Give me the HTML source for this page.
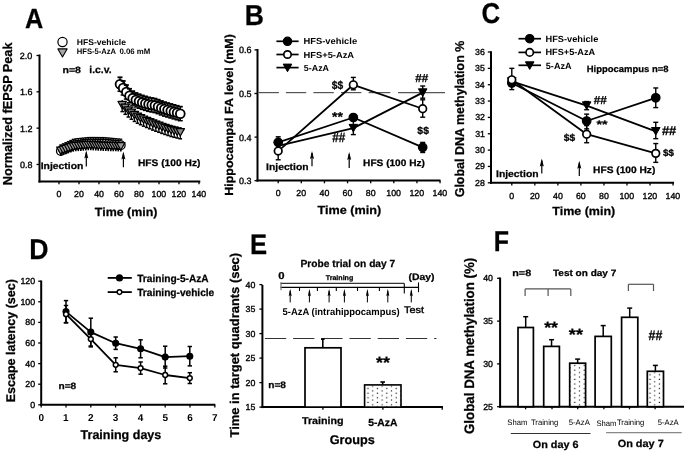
<!DOCTYPE html>
<html><head><meta charset="utf-8"><style>
html,body{margin:0;padding:0;background:#fff;}
svg{display:block;will-change:transform;}
text{font-family:"Liberation Sans",sans-serif;font-weight:bold;stroke:#000;stroke-width:0.25px;text-rendering:geometricPrecision;}
text.r{font-weight:normal;stroke:none;}
text.b0{stroke:none;}
text.m{font-weight:normal;stroke:#000;stroke-width:0.35px;}
</style></head><body>
<svg width="685" height="453" viewBox="0 0 685 453">
<defs><pattern id="dots" patternUnits="userSpaceOnUse" width="9.4" height="4.6"><rect width="9.4" height="4.6" fill="#fff"/><rect x="0.8" y="1.6" width="1.2" height="1.2" fill="#111"/><rect x="5.5" y="3.9" width="1.2" height="1.2" fill="#333"/><rect x="5.5" y="-0.7" width="1.2" height="1.2" fill="#333"/></pattern></defs>
<rect width="685" height="453" fill="#fff"/>
<text x="25.09" y="27.80" font-size="27.76" textLength="18.27" lengthAdjust="spacingAndGlyphs">A</text>
<line x1="39.50" y1="54.50" x2="39.50" y2="182.50" stroke="#000" stroke-width="2.0"/>
<line x1="38.50" y1="181.60" x2="200.30" y2="181.60" stroke="#000" stroke-width="2.0"/>
<line x1="36.50" y1="55.50" x2="39.50" y2="55.50" stroke="#000" stroke-width="1.3"/>
<text x="19.83" y="58.90" font-size="9.00" class="m">2.0</text>
<line x1="36.50" y1="91.82" x2="39.50" y2="91.82" stroke="#000" stroke-width="1.3"/>
<text x="19.88" y="95.22" font-size="9.00" class="m">1.6</text>
<line x1="36.50" y1="128.14" x2="39.50" y2="128.14" stroke="#000" stroke-width="1.3"/>
<text x="19.94" y="131.58" font-size="9.00" class="m">1.2</text>
<line x1="36.50" y1="164.46" x2="39.50" y2="164.46" stroke="#000" stroke-width="1.3"/>
<text x="19.88" y="167.86" font-size="9.00" class="m">0.8</text>
<line x1="59.00" y1="181.60" x2="59.00" y2="184.30" stroke="#000" stroke-width="1.3"/>
<text x="56.55" y="196.63" font-size="8.80" class="m">0</text>
<line x1="79.00" y1="181.60" x2="79.00" y2="184.30" stroke="#000" stroke-width="1.3"/>
<text x="74.05" y="196.63" font-size="8.80" class="m">20</text>
<line x1="99.00" y1="181.60" x2="99.00" y2="184.30" stroke="#000" stroke-width="1.3"/>
<text x="94.18" y="196.63" font-size="8.80" class="m">40</text>
<line x1="119.00" y1="181.60" x2="119.00" y2="184.30" stroke="#000" stroke-width="1.3"/>
<text x="114.05" y="196.63" font-size="8.80" class="m">60</text>
<line x1="139.00" y1="181.60" x2="139.00" y2="184.30" stroke="#000" stroke-width="1.3"/>
<text x="134.09" y="196.63" font-size="8.80" class="m">80</text>
<line x1="159.00" y1="181.60" x2="159.00" y2="184.30" stroke="#000" stroke-width="1.3"/>
<text x="151.49" y="196.63" font-size="8.80" class="m">100</text>
<line x1="179.00" y1="181.60" x2="179.00" y2="184.30" stroke="#000" stroke-width="1.3"/>
<text x="171.49" y="196.63" font-size="8.80" class="m">120</text>
<line x1="199.00" y1="181.60" x2="199.00" y2="184.30" stroke="#000" stroke-width="1.3"/>
<text x="191.49" y="196.63" font-size="8.80" class="m">140</text>
<text x="94.86" y="215.70" font-size="11.86" textLength="62.64" lengthAdjust="spacingAndGlyphs">Time (min)</text>
<g transform="translate(11.83,184.34) rotate(-90)"><text x="-0.84" y="0" font-size="13.02" textLength="142.61" lengthAdjust="spacingAndGlyphs">Normalized fEPSP Peak</text></g>
<circle cx="62.50" cy="42.05" r="4.60" fill="#fff" stroke="#000" stroke-width="1.2"/>
<polygon points="57.9,48.9 67.1,48.9 62.5,57.0" fill="#a8a8a8" stroke="#000" stroke-width="1.1" stroke-linejoin="round"/>
<text x="76.73" y="44.90" font-size="8.37" textLength="49.26" lengthAdjust="spacingAndGlyphs" class="b0">HFS-vehicle</text>
<text x="76.80" y="54.30" font-size="7.94" textLength="39.30" lengthAdjust="spacingAndGlyphs" class="b0">HFS-5-AzA</text>
<text x="119.39" y="54.30" font-size="7.94" textLength="30.93" lengthAdjust="spacingAndGlyphs" class="b0">0.06 mM</text>
<text x="62.51" y="72.70" font-size="9.24" textLength="18.50" lengthAdjust="spacingAndGlyphs">n=8</text>
<text x="89.28" y="72.70" font-size="9.97" textLength="22.33" lengthAdjust="spacingAndGlyphs">i.c.v.</text>
<text x="40.72" y="169.40" font-size="9.39" textLength="42.62" lengthAdjust="spacingAndGlyphs">Injection</text>
<line x1="86.30" y1="152.50" x2="86.30" y2="166.40" stroke="#000" stroke-width="1.2"/>
<polygon points="86.30,150.50 84.30,158.50 86.30,157.30 88.30,158.50" fill="#000"/>
<line x1="123.40" y1="153.50" x2="123.40" y2="167.30" stroke="#000" stroke-width="1.2"/>
<polygon points="123.40,151.50 121.40,159.50 123.40,158.30 125.40,159.50" fill="#000"/>
<text x="137.93" y="165.90" font-size="9.53" textLength="62.48" lengthAdjust="spacingAndGlyphs">HFS (100 Hz)</text>
<line x1="60.80" y1="144.94" x2="60.80" y2="155.94" stroke="#000" stroke-width="1.2"/>
<line x1="59.30" y1="144.94" x2="62.30" y2="144.94" stroke="#000" stroke-width="1.3"/>
<circle cx="60.80" cy="150.94" r="4.30" fill="#fff" stroke="#000" stroke-width="1.3"/>
<line x1="63.30" y1="143.82" x2="63.30" y2="154.82" stroke="#000" stroke-width="1.2"/>
<line x1="61.80" y1="143.82" x2="64.80" y2="143.82" stroke="#000" stroke-width="1.3"/>
<circle cx="63.30" cy="149.82" r="4.30" fill="#fff" stroke="#000" stroke-width="1.3"/>
<line x1="65.80" y1="142.70" x2="65.80" y2="153.70" stroke="#000" stroke-width="1.2"/>
<line x1="64.30" y1="142.70" x2="67.30" y2="142.70" stroke="#000" stroke-width="1.3"/>
<circle cx="65.80" cy="148.70" r="4.30" fill="#fff" stroke="#000" stroke-width="1.3"/>
<line x1="68.30" y1="141.58" x2="68.30" y2="152.58" stroke="#000" stroke-width="1.2"/>
<line x1="66.80" y1="141.58" x2="69.80" y2="141.58" stroke="#000" stroke-width="1.3"/>
<circle cx="68.30" cy="147.58" r="4.30" fill="#fff" stroke="#000" stroke-width="1.3"/>
<line x1="70.80" y1="140.46" x2="70.80" y2="151.46" stroke="#000" stroke-width="1.2"/>
<line x1="69.30" y1="140.46" x2="72.30" y2="140.46" stroke="#000" stroke-width="1.3"/>
<circle cx="70.80" cy="146.46" r="4.30" fill="#fff" stroke="#000" stroke-width="1.3"/>
<line x1="73.30" y1="139.34" x2="73.30" y2="150.34" stroke="#000" stroke-width="1.2"/>
<line x1="71.80" y1="139.34" x2="74.80" y2="139.34" stroke="#000" stroke-width="1.3"/>
<circle cx="73.30" cy="145.34" r="4.30" fill="#fff" stroke="#000" stroke-width="1.3"/>
<line x1="75.80" y1="138.84" x2="75.80" y2="149.84" stroke="#000" stroke-width="1.2"/>
<line x1="74.30" y1="138.84" x2="77.30" y2="138.84" stroke="#000" stroke-width="1.3"/>
<circle cx="75.80" cy="144.84" r="4.30" fill="#fff" stroke="#000" stroke-width="1.3"/>
<line x1="78.30" y1="138.59" x2="78.30" y2="149.59" stroke="#000" stroke-width="1.2"/>
<line x1="76.80" y1="138.59" x2="79.80" y2="138.59" stroke="#000" stroke-width="1.3"/>
<circle cx="78.30" cy="144.59" r="4.30" fill="#fff" stroke="#000" stroke-width="1.3"/>
<line x1="80.80" y1="138.33" x2="80.80" y2="149.33" stroke="#000" stroke-width="1.2"/>
<line x1="79.30" y1="138.33" x2="82.30" y2="138.33" stroke="#000" stroke-width="1.3"/>
<circle cx="80.80" cy="144.33" r="4.30" fill="#fff" stroke="#000" stroke-width="1.3"/>
<line x1="83.30" y1="138.07" x2="83.30" y2="149.07" stroke="#000" stroke-width="1.2"/>
<line x1="81.80" y1="138.07" x2="84.80" y2="138.07" stroke="#000" stroke-width="1.3"/>
<circle cx="83.30" cy="144.07" r="4.30" fill="#fff" stroke="#000" stroke-width="1.3"/>
<line x1="85.80" y1="137.81" x2="85.80" y2="148.81" stroke="#000" stroke-width="1.2"/>
<line x1="84.30" y1="137.81" x2="87.30" y2="137.81" stroke="#000" stroke-width="1.3"/>
<circle cx="85.80" cy="143.81" r="4.30" fill="#fff" stroke="#000" stroke-width="1.3"/>
<line x1="88.30" y1="137.56" x2="88.30" y2="148.56" stroke="#000" stroke-width="1.2"/>
<line x1="86.80" y1="137.56" x2="89.80" y2="137.56" stroke="#000" stroke-width="1.3"/>
<circle cx="88.30" cy="143.56" r="4.30" fill="#fff" stroke="#000" stroke-width="1.3"/>
<line x1="90.80" y1="137.50" x2="90.80" y2="148.50" stroke="#000" stroke-width="1.2"/>
<line x1="89.30" y1="137.50" x2="92.30" y2="137.50" stroke="#000" stroke-width="1.3"/>
<circle cx="90.80" cy="143.50" r="4.30" fill="#fff" stroke="#000" stroke-width="1.3"/>
<line x1="93.30" y1="137.51" x2="93.30" y2="148.51" stroke="#000" stroke-width="1.2"/>
<line x1="91.80" y1="137.51" x2="94.80" y2="137.51" stroke="#000" stroke-width="1.3"/>
<circle cx="93.30" cy="143.51" r="4.30" fill="#fff" stroke="#000" stroke-width="1.3"/>
<line x1="95.80" y1="137.53" x2="95.80" y2="148.53" stroke="#000" stroke-width="1.2"/>
<line x1="94.30" y1="137.53" x2="97.30" y2="137.53" stroke="#000" stroke-width="1.3"/>
<circle cx="95.80" cy="143.53" r="4.30" fill="#fff" stroke="#000" stroke-width="1.3"/>
<line x1="98.30" y1="137.54" x2="98.30" y2="148.54" stroke="#000" stroke-width="1.2"/>
<line x1="96.80" y1="137.54" x2="99.80" y2="137.54" stroke="#000" stroke-width="1.3"/>
<circle cx="98.30" cy="143.54" r="4.30" fill="#fff" stroke="#000" stroke-width="1.3"/>
<line x1="100.80" y1="137.56" x2="100.80" y2="148.56" stroke="#000" stroke-width="1.2"/>
<line x1="99.30" y1="137.56" x2="102.30" y2="137.56" stroke="#000" stroke-width="1.3"/>
<circle cx="100.80" cy="143.56" r="4.30" fill="#fff" stroke="#000" stroke-width="1.3"/>
<line x1="103.30" y1="137.57" x2="103.30" y2="148.57" stroke="#000" stroke-width="1.2"/>
<line x1="101.80" y1="137.57" x2="104.80" y2="137.57" stroke="#000" stroke-width="1.3"/>
<circle cx="103.30" cy="143.57" r="4.30" fill="#fff" stroke="#000" stroke-width="1.3"/>
<line x1="105.80" y1="137.75" x2="105.80" y2="148.75" stroke="#000" stroke-width="1.2"/>
<line x1="104.30" y1="137.75" x2="107.30" y2="137.75" stroke="#000" stroke-width="1.3"/>
<circle cx="105.80" cy="143.75" r="4.30" fill="#fff" stroke="#000" stroke-width="1.3"/>
<line x1="108.30" y1="137.99" x2="108.30" y2="148.99" stroke="#000" stroke-width="1.2"/>
<line x1="106.80" y1="137.99" x2="109.80" y2="137.99" stroke="#000" stroke-width="1.3"/>
<circle cx="108.30" cy="143.99" r="4.30" fill="#fff" stroke="#000" stroke-width="1.3"/>
<line x1="110.80" y1="138.23" x2="110.80" y2="149.23" stroke="#000" stroke-width="1.2"/>
<line x1="109.30" y1="138.23" x2="112.30" y2="138.23" stroke="#000" stroke-width="1.3"/>
<circle cx="110.80" cy="144.23" r="4.30" fill="#fff" stroke="#000" stroke-width="1.3"/>
<line x1="113.30" y1="138.47" x2="113.30" y2="149.47" stroke="#000" stroke-width="1.2"/>
<line x1="111.80" y1="138.47" x2="114.80" y2="138.47" stroke="#000" stroke-width="1.3"/>
<circle cx="113.30" cy="144.47" r="4.30" fill="#fff" stroke="#000" stroke-width="1.3"/>
<line x1="115.80" y1="138.71" x2="115.80" y2="149.71" stroke="#000" stroke-width="1.2"/>
<line x1="114.30" y1="138.71" x2="117.30" y2="138.71" stroke="#000" stroke-width="1.3"/>
<circle cx="115.80" cy="144.71" r="4.30" fill="#fff" stroke="#000" stroke-width="1.3"/>
<line x1="118.30" y1="138.95" x2="118.30" y2="149.95" stroke="#000" stroke-width="1.2"/>
<line x1="116.80" y1="138.95" x2="119.80" y2="138.95" stroke="#000" stroke-width="1.3"/>
<circle cx="118.30" cy="144.95" r="4.30" fill="#fff" stroke="#000" stroke-width="1.3"/>
<line x1="120.80" y1="139.19" x2="120.80" y2="150.19" stroke="#000" stroke-width="1.2"/>
<line x1="119.30" y1="139.19" x2="122.30" y2="139.19" stroke="#000" stroke-width="1.3"/>
<circle cx="120.80" cy="145.19" r="4.30" fill="#fff" stroke="#000" stroke-width="1.3"/>
<line x1="60.80" y1="150.69" x2="60.80" y2="155.89" stroke="#000" stroke-width="1.6"/>
<polygon points="56.60,147.04 65.00,147.04 60.80,154.35" fill="#999" stroke="#000" stroke-width="1.2" stroke-linejoin="round"/>
<line x1="63.30" y1="149.86" x2="63.30" y2="155.06" stroke="#000" stroke-width="1.6"/>
<polygon points="59.10,146.21 67.50,146.21 63.30,153.52" fill="#999" stroke="#000" stroke-width="1.2" stroke-linejoin="round"/>
<line x1="65.80" y1="149.03" x2="65.80" y2="154.23" stroke="#000" stroke-width="1.6"/>
<polygon points="61.60,145.38 70.00,145.38 65.80,152.68" fill="#999" stroke="#000" stroke-width="1.2" stroke-linejoin="round"/>
<line x1="68.30" y1="148.20" x2="68.30" y2="153.40" stroke="#000" stroke-width="1.6"/>
<polygon points="64.10,144.54 72.50,144.54 68.30,151.85" fill="#999" stroke="#000" stroke-width="1.2" stroke-linejoin="round"/>
<line x1="70.80" y1="147.37" x2="70.80" y2="152.57" stroke="#000" stroke-width="1.6"/>
<polygon points="66.60,143.71 75.00,143.71 70.80,151.02" fill="#999" stroke="#000" stroke-width="1.2" stroke-linejoin="round"/>
<line x1="73.30" y1="146.53" x2="73.30" y2="151.73" stroke="#000" stroke-width="1.6"/>
<polygon points="69.10,142.88 77.50,142.88 73.30,150.19" fill="#999" stroke="#000" stroke-width="1.2" stroke-linejoin="round"/>
<line x1="75.80" y1="146.15" x2="75.80" y2="151.35" stroke="#000" stroke-width="1.6"/>
<polygon points="71.60,142.49 80.00,142.49 75.80,149.80" fill="#999" stroke="#000" stroke-width="1.2" stroke-linejoin="round"/>
<line x1="78.30" y1="145.94" x2="78.30" y2="151.14" stroke="#000" stroke-width="1.6"/>
<polygon points="74.10,142.28 82.50,142.28 78.30,149.59" fill="#999" stroke="#000" stroke-width="1.2" stroke-linejoin="round"/>
<line x1="80.80" y1="145.72" x2="80.80" y2="150.92" stroke="#000" stroke-width="1.6"/>
<polygon points="76.60,142.07 85.00,142.07 80.80,149.38" fill="#999" stroke="#000" stroke-width="1.2" stroke-linejoin="round"/>
<line x1="83.30" y1="145.51" x2="83.30" y2="150.71" stroke="#000" stroke-width="1.6"/>
<polygon points="79.10,141.86 87.50,141.86 83.30,149.17" fill="#999" stroke="#000" stroke-width="1.2" stroke-linejoin="round"/>
<line x1="85.80" y1="145.30" x2="85.80" y2="150.50" stroke="#000" stroke-width="1.6"/>
<polygon points="81.60,141.65 90.00,141.65 85.80,148.95" fill="#999" stroke="#000" stroke-width="1.2" stroke-linejoin="round"/>
<line x1="88.30" y1="145.09" x2="88.30" y2="150.29" stroke="#000" stroke-width="1.6"/>
<polygon points="84.10,141.43 92.50,141.43 88.30,148.74" fill="#999" stroke="#000" stroke-width="1.2" stroke-linejoin="round"/>
<line x1="90.80" y1="145.13" x2="90.80" y2="150.33" stroke="#000" stroke-width="1.6"/>
<polygon points="86.60,141.47 95.00,141.47 90.80,148.78" fill="#999" stroke="#000" stroke-width="1.2" stroke-linejoin="round"/>
<line x1="93.30" y1="145.26" x2="93.30" y2="150.46" stroke="#000" stroke-width="1.6"/>
<polygon points="89.10,141.61 97.50,141.61 93.30,148.92" fill="#999" stroke="#000" stroke-width="1.2" stroke-linejoin="round"/>
<line x1="95.80" y1="145.40" x2="95.80" y2="150.60" stroke="#000" stroke-width="1.6"/>
<polygon points="91.60,141.75 100.00,141.75 95.80,149.05" fill="#999" stroke="#000" stroke-width="1.2" stroke-linejoin="round"/>
<line x1="98.30" y1="145.54" x2="98.30" y2="150.74" stroke="#000" stroke-width="1.6"/>
<polygon points="94.10,141.88 102.50,141.88 98.30,149.19" fill="#999" stroke="#000" stroke-width="1.2" stroke-linejoin="round"/>
<line x1="100.80" y1="145.67" x2="100.80" y2="150.87" stroke="#000" stroke-width="1.6"/>
<polygon points="96.60,142.02 105.00,142.02 100.80,149.33" fill="#999" stroke="#000" stroke-width="1.2" stroke-linejoin="round"/>
<line x1="103.30" y1="145.81" x2="103.30" y2="151.01" stroke="#000" stroke-width="1.6"/>
<polygon points="99.10,142.15 107.50,142.15 103.30,149.46" fill="#999" stroke="#000" stroke-width="1.2" stroke-linejoin="round"/>
<line x1="105.80" y1="145.89" x2="105.80" y2="151.09" stroke="#000" stroke-width="1.6"/>
<polygon points="101.60,142.24 110.00,142.24 105.80,149.55" fill="#999" stroke="#000" stroke-width="1.2" stroke-linejoin="round"/>
<line x1="108.30" y1="145.96" x2="108.30" y2="151.16" stroke="#000" stroke-width="1.6"/>
<polygon points="104.10,142.31 112.50,142.31 108.30,149.61" fill="#999" stroke="#000" stroke-width="1.2" stroke-linejoin="round"/>
<line x1="110.80" y1="146.03" x2="110.80" y2="151.23" stroke="#000" stroke-width="1.6"/>
<polygon points="106.60,142.37 115.00,142.37 110.80,149.68" fill="#999" stroke="#000" stroke-width="1.2" stroke-linejoin="round"/>
<line x1="113.30" y1="146.09" x2="113.30" y2="151.29" stroke="#000" stroke-width="1.6"/>
<polygon points="109.10,142.44 117.50,142.44 113.30,149.75" fill="#999" stroke="#000" stroke-width="1.2" stroke-linejoin="round"/>
<line x1="115.80" y1="146.16" x2="115.80" y2="151.36" stroke="#000" stroke-width="1.6"/>
<polygon points="111.60,142.51 120.00,142.51 115.80,149.82" fill="#999" stroke="#000" stroke-width="1.2" stroke-linejoin="round"/>
<line x1="118.30" y1="146.23" x2="118.30" y2="151.43" stroke="#000" stroke-width="1.6"/>
<polygon points="114.10,142.57 122.50,142.57 118.30,149.88" fill="#999" stroke="#000" stroke-width="1.2" stroke-linejoin="round"/>
<line x1="120.80" y1="146.29" x2="120.80" y2="151.49" stroke="#000" stroke-width="1.6"/>
<polygon points="116.60,142.64 125.00,142.64 120.80,149.95" fill="#999" stroke="#000" stroke-width="1.2" stroke-linejoin="round"/>
<line x1="122.20" y1="100.10" x2="122.20" y2="111.60" stroke="#000" stroke-width="1.3"/>
<line x1="120.40" y1="111.60" x2="124.00" y2="111.60" stroke="#000" stroke-width="1.5"/>
<polygon points="118.00,101.45 126.40,101.45 122.20,108.75" fill="#8a8a8a" stroke="#000" stroke-width="1.2" stroke-linejoin="round"/>
<line x1="125.26" y1="102.82" x2="125.26" y2="114.32" stroke="#000" stroke-width="1.3"/>
<line x1="123.46" y1="114.32" x2="127.06" y2="114.32" stroke="#000" stroke-width="1.5"/>
<polygon points="121.06,104.17 129.46,104.17 125.26,111.48" fill="#8a8a8a" stroke="#000" stroke-width="1.2" stroke-linejoin="round"/>
<line x1="128.32" y1="105.55" x2="128.32" y2="117.05" stroke="#000" stroke-width="1.3"/>
<line x1="126.52" y1="117.05" x2="130.12" y2="117.05" stroke="#000" stroke-width="1.5"/>
<polygon points="124.12,106.89 132.52,106.89 128.32,114.20" fill="#8a8a8a" stroke="#000" stroke-width="1.2" stroke-linejoin="round"/>
<line x1="131.37" y1="107.76" x2="131.37" y2="119.26" stroke="#000" stroke-width="1.3"/>
<line x1="129.57" y1="119.26" x2="133.17" y2="119.26" stroke="#000" stroke-width="1.5"/>
<polygon points="127.17,109.11 135.57,109.11 131.37,116.42" fill="#8a8a8a" stroke="#000" stroke-width="1.2" stroke-linejoin="round"/>
<line x1="134.43" y1="109.93" x2="134.43" y2="121.43" stroke="#000" stroke-width="1.3"/>
<line x1="132.63" y1="121.43" x2="136.23" y2="121.43" stroke="#000" stroke-width="1.5"/>
<polygon points="130.23,111.28 138.63,111.28 134.43,118.58" fill="#8a8a8a" stroke="#000" stroke-width="1.2" stroke-linejoin="round"/>
<line x1="137.49" y1="111.72" x2="137.49" y2="123.22" stroke="#000" stroke-width="1.3"/>
<line x1="135.69" y1="123.22" x2="139.29" y2="123.22" stroke="#000" stroke-width="1.5"/>
<polygon points="133.29,113.07 141.69,113.07 137.49,120.38" fill="#8a8a8a" stroke="#000" stroke-width="1.2" stroke-linejoin="round"/>
<line x1="140.55" y1="113.21" x2="140.55" y2="124.71" stroke="#000" stroke-width="1.3"/>
<line x1="138.75" y1="124.71" x2="142.35" y2="124.71" stroke="#000" stroke-width="1.5"/>
<polygon points="136.35,114.55 144.75,114.55 140.55,121.86" fill="#8a8a8a" stroke="#000" stroke-width="1.2" stroke-linejoin="round"/>
<line x1="143.61" y1="114.66" x2="143.61" y2="126.16" stroke="#000" stroke-width="1.3"/>
<line x1="141.81" y1="126.16" x2="145.41" y2="126.16" stroke="#000" stroke-width="1.5"/>
<polygon points="139.41,116.01 147.81,116.01 143.61,123.31" fill="#8a8a8a" stroke="#000" stroke-width="1.2" stroke-linejoin="round"/>
<line x1="146.66" y1="115.98" x2="146.66" y2="127.48" stroke="#000" stroke-width="1.3"/>
<line x1="144.86" y1="127.48" x2="148.46" y2="127.48" stroke="#000" stroke-width="1.5"/>
<polygon points="142.46,117.32 150.86,117.32 146.66,124.63" fill="#8a8a8a" stroke="#000" stroke-width="1.2" stroke-linejoin="round"/>
<line x1="149.72" y1="117.29" x2="149.72" y2="128.79" stroke="#000" stroke-width="1.3"/>
<line x1="147.92" y1="128.79" x2="151.52" y2="128.79" stroke="#000" stroke-width="1.5"/>
<polygon points="145.52,118.64 153.92,118.64 149.72,125.94" fill="#8a8a8a" stroke="#000" stroke-width="1.2" stroke-linejoin="round"/>
<line x1="152.78" y1="118.60" x2="152.78" y2="130.10" stroke="#000" stroke-width="1.3"/>
<line x1="150.98" y1="130.10" x2="154.58" y2="130.10" stroke="#000" stroke-width="1.5"/>
<polygon points="148.58,119.95 156.98,119.95 152.78,127.26" fill="#8a8a8a" stroke="#000" stroke-width="1.2" stroke-linejoin="round"/>
<line x1="155.84" y1="119.72" x2="155.84" y2="131.22" stroke="#000" stroke-width="1.3"/>
<line x1="154.04" y1="131.22" x2="157.64" y2="131.22" stroke="#000" stroke-width="1.5"/>
<polygon points="151.64,121.07 160.04,121.07 155.84,128.38" fill="#8a8a8a" stroke="#000" stroke-width="1.2" stroke-linejoin="round"/>
<line x1="158.89" y1="120.82" x2="158.89" y2="132.32" stroke="#000" stroke-width="1.3"/>
<line x1="157.09" y1="132.32" x2="160.69" y2="132.32" stroke="#000" stroke-width="1.5"/>
<polygon points="154.69,122.17 163.09,122.17 158.89,129.48" fill="#8a8a8a" stroke="#000" stroke-width="1.2" stroke-linejoin="round"/>
<line x1="161.95" y1="121.92" x2="161.95" y2="133.42" stroke="#000" stroke-width="1.3"/>
<line x1="160.15" y1="133.42" x2="163.75" y2="133.42" stroke="#000" stroke-width="1.5"/>
<polygon points="157.75,123.27 166.15,123.27 161.95,130.58" fill="#8a8a8a" stroke="#000" stroke-width="1.2" stroke-linejoin="round"/>
<line x1="165.01" y1="122.98" x2="165.01" y2="134.48" stroke="#000" stroke-width="1.3"/>
<line x1="163.21" y1="134.48" x2="166.81" y2="134.48" stroke="#000" stroke-width="1.5"/>
<polygon points="160.81,124.32 169.21,124.32 165.01,131.63" fill="#8a8a8a" stroke="#000" stroke-width="1.2" stroke-linejoin="round"/>
<line x1="168.07" y1="124.01" x2="168.07" y2="135.51" stroke="#000" stroke-width="1.3"/>
<line x1="166.27" y1="135.51" x2="169.87" y2="135.51" stroke="#000" stroke-width="1.5"/>
<polygon points="163.87,125.36 172.27,125.36 168.07,132.66" fill="#8a8a8a" stroke="#000" stroke-width="1.2" stroke-linejoin="round"/>
<line x1="171.13" y1="125.04" x2="171.13" y2="136.54" stroke="#000" stroke-width="1.3"/>
<line x1="169.33" y1="136.54" x2="172.93" y2="136.54" stroke="#000" stroke-width="1.5"/>
<polygon points="166.93,126.39 175.33,126.39 171.13,133.69" fill="#8a8a8a" stroke="#000" stroke-width="1.2" stroke-linejoin="round"/>
<line x1="174.18" y1="125.82" x2="174.18" y2="137.32" stroke="#000" stroke-width="1.3"/>
<line x1="172.38" y1="137.32" x2="175.98" y2="137.32" stroke="#000" stroke-width="1.5"/>
<polygon points="169.98,127.17 178.38,127.17 174.18,134.48" fill="#8a8a8a" stroke="#000" stroke-width="1.2" stroke-linejoin="round"/>
<line x1="177.24" y1="126.56" x2="177.24" y2="138.06" stroke="#000" stroke-width="1.3"/>
<line x1="175.44" y1="138.06" x2="179.04" y2="138.06" stroke="#000" stroke-width="1.5"/>
<polygon points="173.04,127.91 181.44,127.91 177.24,135.22" fill="#8a8a8a" stroke="#000" stroke-width="1.2" stroke-linejoin="round"/>
<line x1="180.30" y1="127.30" x2="180.30" y2="138.80" stroke="#000" stroke-width="1.3"/>
<line x1="178.50" y1="138.80" x2="182.10" y2="138.80" stroke="#000" stroke-width="1.5"/>
<polygon points="176.10,128.65 184.50,128.65 180.30,135.95" fill="#8a8a8a" stroke="#000" stroke-width="1.2" stroke-linejoin="round"/>
<line x1="120.00" y1="77.30" x2="120.00" y2="91.30" stroke="#000" stroke-width="1.4"/>
<line x1="117.50" y1="77.30" x2="122.50" y2="77.30" stroke="#000" stroke-width="1.8"/>
<line x1="117.50" y1="91.30" x2="122.50" y2="91.30" stroke="#000" stroke-width="1.5"/>
<circle cx="120.00" cy="84.30" r="4.40" fill="#fff" stroke="#000" stroke-width="1.8"/>
<line x1="123.17" y1="80.99" x2="123.17" y2="94.99" stroke="#000" stroke-width="1.4"/>
<line x1="120.67" y1="80.99" x2="125.67" y2="80.99" stroke="#000" stroke-width="1.8"/>
<line x1="120.67" y1="94.99" x2="125.67" y2="94.99" stroke="#000" stroke-width="1.5"/>
<circle cx="123.17" cy="87.99" r="4.40" fill="#fff" stroke="#000" stroke-width="1.8"/>
<line x1="126.35" y1="85.06" x2="126.35" y2="99.06" stroke="#000" stroke-width="1.4"/>
<line x1="123.85" y1="85.06" x2="128.85" y2="85.06" stroke="#000" stroke-width="1.8"/>
<line x1="123.85" y1="99.06" x2="128.85" y2="99.06" stroke="#000" stroke-width="1.5"/>
<circle cx="126.35" cy="92.06" r="4.40" fill="#fff" stroke="#000" stroke-width="1.8"/>
<line x1="129.52" y1="88.78" x2="129.52" y2="102.78" stroke="#000" stroke-width="1.4"/>
<line x1="127.02" y1="88.78" x2="132.02" y2="88.78" stroke="#000" stroke-width="1.8"/>
<line x1="127.02" y1="102.78" x2="132.02" y2="102.78" stroke="#000" stroke-width="1.5"/>
<circle cx="129.52" cy="95.78" r="4.40" fill="#fff" stroke="#000" stroke-width="1.8"/>
<line x1="132.69" y1="91.14" x2="132.69" y2="105.14" stroke="#000" stroke-width="1.4"/>
<line x1="130.19" y1="91.14" x2="135.19" y2="91.14" stroke="#000" stroke-width="1.8"/>
<line x1="130.19" y1="105.14" x2="135.19" y2="105.14" stroke="#000" stroke-width="1.5"/>
<circle cx="132.69" cy="98.14" r="4.40" fill="#fff" stroke="#000" stroke-width="1.8"/>
<line x1="135.87" y1="92.98" x2="135.87" y2="106.98" stroke="#000" stroke-width="1.4"/>
<line x1="133.37" y1="92.98" x2="138.37" y2="92.98" stroke="#000" stroke-width="1.8"/>
<line x1="133.37" y1="106.98" x2="138.37" y2="106.98" stroke="#000" stroke-width="1.5"/>
<circle cx="135.87" cy="99.98" r="4.40" fill="#fff" stroke="#000" stroke-width="1.8"/>
<line x1="139.04" y1="94.23" x2="139.04" y2="108.23" stroke="#000" stroke-width="1.4"/>
<line x1="136.54" y1="94.23" x2="141.54" y2="94.23" stroke="#000" stroke-width="1.8"/>
<line x1="136.54" y1="108.23" x2="141.54" y2="108.23" stroke="#000" stroke-width="1.5"/>
<circle cx="139.04" cy="101.23" r="4.40" fill="#fff" stroke="#000" stroke-width="1.8"/>
<line x1="142.22" y1="95.42" x2="142.22" y2="109.42" stroke="#000" stroke-width="1.4"/>
<line x1="139.72" y1="95.42" x2="144.72" y2="95.42" stroke="#000" stroke-width="1.8"/>
<line x1="139.72" y1="109.42" x2="144.72" y2="109.42" stroke="#000" stroke-width="1.5"/>
<circle cx="142.22" cy="102.42" r="4.40" fill="#fff" stroke="#000" stroke-width="1.8"/>
<line x1="145.39" y1="96.39" x2="145.39" y2="110.39" stroke="#000" stroke-width="1.4"/>
<line x1="142.89" y1="96.39" x2="147.89" y2="96.39" stroke="#000" stroke-width="1.8"/>
<line x1="142.89" y1="110.39" x2="147.89" y2="110.39" stroke="#000" stroke-width="1.5"/>
<circle cx="145.39" cy="103.39" r="4.40" fill="#fff" stroke="#000" stroke-width="1.8"/>
<line x1="148.56" y1="97.36" x2="148.56" y2="111.36" stroke="#000" stroke-width="1.4"/>
<line x1="146.06" y1="97.36" x2="151.06" y2="97.36" stroke="#000" stroke-width="1.8"/>
<line x1="146.06" y1="111.36" x2="151.06" y2="111.36" stroke="#000" stroke-width="1.5"/>
<circle cx="148.56" cy="104.36" r="4.40" fill="#fff" stroke="#000" stroke-width="1.8"/>
<line x1="151.74" y1="97.99" x2="151.74" y2="111.99" stroke="#000" stroke-width="1.4"/>
<line x1="149.24" y1="97.99" x2="154.24" y2="97.99" stroke="#000" stroke-width="1.8"/>
<line x1="149.24" y1="111.99" x2="154.24" y2="111.99" stroke="#000" stroke-width="1.5"/>
<circle cx="151.74" cy="104.99" r="4.40" fill="#fff" stroke="#000" stroke-width="1.8"/>
<line x1="154.91" y1="98.61" x2="154.91" y2="112.61" stroke="#000" stroke-width="1.4"/>
<line x1="152.41" y1="98.61" x2="157.41" y2="98.61" stroke="#000" stroke-width="1.8"/>
<line x1="152.41" y1="112.61" x2="157.41" y2="112.61" stroke="#000" stroke-width="1.5"/>
<circle cx="154.91" cy="105.61" r="4.40" fill="#fff" stroke="#000" stroke-width="1.8"/>
<line x1="158.08" y1="99.69" x2="158.08" y2="113.69" stroke="#000" stroke-width="1.4"/>
<line x1="155.58" y1="99.69" x2="160.58" y2="99.69" stroke="#000" stroke-width="1.8"/>
<line x1="155.58" y1="113.69" x2="160.58" y2="113.69" stroke="#000" stroke-width="1.5"/>
<circle cx="158.08" cy="106.69" r="4.40" fill="#fff" stroke="#000" stroke-width="1.8"/>
<line x1="161.26" y1="100.99" x2="161.26" y2="114.99" stroke="#000" stroke-width="1.4"/>
<line x1="158.76" y1="100.99" x2="163.76" y2="100.99" stroke="#000" stroke-width="1.8"/>
<line x1="158.76" y1="114.99" x2="163.76" y2="114.99" stroke="#000" stroke-width="1.5"/>
<circle cx="161.26" cy="107.99" r="4.40" fill="#fff" stroke="#000" stroke-width="1.8"/>
<line x1="164.43" y1="102.12" x2="164.43" y2="116.12" stroke="#000" stroke-width="1.4"/>
<line x1="161.93" y1="102.12" x2="166.93" y2="102.12" stroke="#000" stroke-width="1.8"/>
<line x1="161.93" y1="116.12" x2="166.93" y2="116.12" stroke="#000" stroke-width="1.5"/>
<circle cx="164.43" cy="109.12" r="4.40" fill="#fff" stroke="#000" stroke-width="1.8"/>
<line x1="167.61" y1="103.04" x2="167.61" y2="117.04" stroke="#000" stroke-width="1.4"/>
<line x1="165.11" y1="103.04" x2="170.11" y2="103.04" stroke="#000" stroke-width="1.8"/>
<line x1="165.11" y1="117.04" x2="170.11" y2="117.04" stroke="#000" stroke-width="1.5"/>
<circle cx="167.61" cy="110.04" r="4.40" fill="#fff" stroke="#000" stroke-width="1.8"/>
<line x1="170.78" y1="103.97" x2="170.78" y2="117.97" stroke="#000" stroke-width="1.4"/>
<line x1="168.28" y1="103.97" x2="173.28" y2="103.97" stroke="#000" stroke-width="1.8"/>
<line x1="168.28" y1="117.97" x2="173.28" y2="117.97" stroke="#000" stroke-width="1.5"/>
<circle cx="170.78" cy="110.97" r="4.40" fill="#fff" stroke="#000" stroke-width="1.8"/>
<line x1="173.95" y1="104.88" x2="173.95" y2="118.88" stroke="#000" stroke-width="1.4"/>
<line x1="171.45" y1="104.88" x2="176.45" y2="104.88" stroke="#000" stroke-width="1.8"/>
<line x1="171.45" y1="118.88" x2="176.45" y2="118.88" stroke="#000" stroke-width="1.5"/>
<circle cx="173.95" cy="111.88" r="4.40" fill="#fff" stroke="#000" stroke-width="1.8"/>
<line x1="177.13" y1="105.79" x2="177.13" y2="119.79" stroke="#000" stroke-width="1.4"/>
<line x1="174.63" y1="105.79" x2="179.63" y2="105.79" stroke="#000" stroke-width="1.8"/>
<line x1="174.63" y1="119.79" x2="179.63" y2="119.79" stroke="#000" stroke-width="1.5"/>
<circle cx="177.13" cy="112.79" r="4.40" fill="#fff" stroke="#000" stroke-width="1.8"/>
<line x1="180.30" y1="106.70" x2="180.30" y2="120.70" stroke="#000" stroke-width="1.4"/>
<line x1="177.80" y1="106.70" x2="182.80" y2="106.70" stroke="#000" stroke-width="1.8"/>
<line x1="177.80" y1="120.70" x2="182.80" y2="120.70" stroke="#000" stroke-width="1.5"/>
<circle cx="180.30" cy="113.70" r="4.40" fill="#fff" stroke="#000" stroke-width="1.8"/>
<text x="244.75" y="24.50" font-size="28.78" textLength="19.15" lengthAdjust="spacingAndGlyphs">B</text>
<line x1="257.50" y1="49.00" x2="257.50" y2="181.50" stroke="#000" stroke-width="2.0"/>
<line x1="256.50" y1="180.60" x2="440.50" y2="180.60" stroke="#000" stroke-width="2.0"/>
<line x1="254.50" y1="49.90" x2="257.50" y2="49.90" stroke="#000" stroke-width="1.3"/>
<text x="239.08" y="53.30" font-size="9.00" class="m">0.6</text>
<line x1="254.50" y1="93.50" x2="257.50" y2="93.50" stroke="#000" stroke-width="1.3"/>
<text x="239.06" y="96.90" font-size="9.00" class="m">0.5</text>
<line x1="254.50" y1="137.10" x2="257.50" y2="137.10" stroke="#000" stroke-width="1.3"/>
<text x="238.95" y="140.50" font-size="9.00" class="m">0.4</text>
<line x1="254.50" y1="180.70" x2="257.50" y2="180.70" stroke="#000" stroke-width="1.3"/>
<text x="239.08" y="184.10" font-size="9.00" class="m">0.3</text>
<line x1="278.20" y1="180.60" x2="278.20" y2="183.30" stroke="#000" stroke-width="1.3"/>
<text x="275.75" y="196.13" font-size="8.80" class="m">0</text>
<line x1="301.32" y1="180.60" x2="301.32" y2="183.30" stroke="#000" stroke-width="1.3"/>
<text x="296.37" y="196.13" font-size="8.80" class="m">20</text>
<line x1="324.44" y1="180.60" x2="324.44" y2="183.30" stroke="#000" stroke-width="1.3"/>
<text x="319.62" y="196.13" font-size="8.80" class="m">40</text>
<line x1="347.56" y1="180.60" x2="347.56" y2="183.30" stroke="#000" stroke-width="1.3"/>
<text x="342.61" y="196.13" font-size="8.80" class="m">60</text>
<line x1="370.68" y1="180.60" x2="370.68" y2="183.30" stroke="#000" stroke-width="1.3"/>
<text x="365.77" y="196.13" font-size="8.80" class="m">80</text>
<line x1="393.80" y1="180.60" x2="393.80" y2="183.30" stroke="#000" stroke-width="1.3"/>
<text x="386.29" y="196.13" font-size="8.80" class="m">100</text>
<line x1="416.92" y1="180.60" x2="416.92" y2="183.30" stroke="#000" stroke-width="1.3"/>
<text x="409.41" y="196.13" font-size="8.80" class="m">120</text>
<line x1="440.04" y1="180.60" x2="440.04" y2="183.30" stroke="#000" stroke-width="1.3"/>
<text x="432.53" y="196.13" font-size="8.80" class="m">140</text>
<text x="317.56" y="214.40" font-size="11.72" textLength="63.65" lengthAdjust="spacingAndGlyphs">Time (min)</text>
<g transform="translate(232.93,194.92) rotate(-90)"><text x="-0.82" y="0" font-size="11.72" textLength="161.64" lengthAdjust="spacingAndGlyphs">Hippocampal FA level (mM)</text></g>
<line x1="258.50" y1="92.60" x2="278.90" y2="92.60" stroke="#555" stroke-width="1.2"/>
<line x1="285.90" y1="92.60" x2="306.20" y2="92.60" stroke="#555" stroke-width="1.2"/>
<line x1="313.40" y1="92.60" x2="333.80" y2="92.60" stroke="#555" stroke-width="1.2"/>
<line x1="341.00" y1="92.60" x2="361.30" y2="92.60" stroke="#555" stroke-width="1.2"/>
<line x1="368.60" y1="92.60" x2="390.30" y2="92.60" stroke="#555" stroke-width="1.2"/>
<line x1="398.00" y1="92.60" x2="445.00" y2="92.60" stroke="#555" stroke-width="1.2"/>
<line x1="276.40" y1="41.30" x2="298.60" y2="41.30" stroke="#000" stroke-width="1.7"/>
<circle cx="287.50" cy="41.30" r="4.10" fill="#000" stroke="#000" stroke-width="1.3"/>
<line x1="276.40" y1="54.50" x2="298.60" y2="54.50" stroke="#000" stroke-width="1.7"/>
<circle cx="287.50" cy="54.50" r="3.70" fill="#fff" stroke="#000" stroke-width="1.7"/>
<line x1="276.40" y1="67.60" x2="298.60" y2="67.60" stroke="#000" stroke-width="1.7"/>
<polygon points="283.20,64.10 291.80,64.10 287.50,71.70" fill="#000" stroke="#000" stroke-width="1" stroke-linejoin="round"/>
<text x="303.48" y="44.20" font-size="8.81" textLength="53.64" lengthAdjust="spacingAndGlyphs" class="b0">HFS-vehicle</text>
<text x="303.48" y="57.60" font-size="8.81" textLength="50.67" lengthAdjust="spacingAndGlyphs" class="b0">HFS+5-AzA</text>
<text x="303.83" y="70.80" font-size="8.81" textLength="25.20" lengthAdjust="spacingAndGlyphs" class="b0">5-AzA</text>
<polyline points="278.20,142.33 353.34,117.48 422.70,147.35" fill="none" stroke="#000" stroke-width="1.8" stroke-linejoin="round"/>
<polyline points="278.20,151.05 353.34,84.78 422.70,108.76" fill="none" stroke="#000" stroke-width="1.8" stroke-linejoin="round"/>
<polyline points="278.20,145.82 353.34,128.16 422.70,92.63" fill="none" stroke="#000" stroke-width="1.8" stroke-linejoin="round"/>
<line x1="278.20" y1="136.80" x2="278.20" y2="159.80" stroke="#000" stroke-width="1.4"/>
<line x1="275.70" y1="136.80" x2="280.70" y2="136.80" stroke="#000" stroke-width="1.4"/>
<line x1="275.70" y1="159.80" x2="280.70" y2="159.80" stroke="#000" stroke-width="1.4"/>
<line x1="353.34" y1="77.40" x2="353.34" y2="89.80" stroke="#000" stroke-width="1.4"/>
<line x1="350.84" y1="77.40" x2="355.84" y2="77.40" stroke="#000" stroke-width="1.4"/>
<line x1="350.84" y1="89.80" x2="355.84" y2="89.80" stroke="#000" stroke-width="1.4"/>
<line x1="353.34" y1="119.00" x2="353.34" y2="134.60" stroke="#000" stroke-width="1.4"/>
<line x1="350.84" y1="134.60" x2="355.84" y2="134.60" stroke="#000" stroke-width="1.4"/>
<line x1="422.70" y1="86.00" x2="422.70" y2="98.20" stroke="#000" stroke-width="1.4"/>
<line x1="420.20" y1="86.00" x2="425.20" y2="86.00" stroke="#000" stroke-width="1.4"/>
<line x1="420.20" y1="98.20" x2="425.20" y2="98.20" stroke="#000" stroke-width="1.4"/>
<line x1="422.70" y1="99.80" x2="422.70" y2="117.20" stroke="#000" stroke-width="1.4"/>
<line x1="420.20" y1="99.80" x2="425.20" y2="99.80" stroke="#000" stroke-width="1.4"/>
<line x1="420.20" y1="117.20" x2="425.20" y2="117.20" stroke="#000" stroke-width="1.4"/>
<line x1="422.70" y1="142.60" x2="422.70" y2="152.30" stroke="#000" stroke-width="1.8"/>
<line x1="420.20" y1="142.60" x2="425.20" y2="142.60" stroke="#000" stroke-width="1.8"/>
<line x1="420.20" y1="152.30" x2="425.20" y2="152.30" stroke="#000" stroke-width="1.8"/>
<circle cx="278.20" cy="142.33" r="4.20" fill="#000" stroke="#000" stroke-width="1.3"/>
<circle cx="353.34" cy="117.48" r="4.20" fill="#000" stroke="#000" stroke-width="1.3"/>
<circle cx="422.70" cy="147.35" r="4.20" fill="#000" stroke="#000" stroke-width="1.3"/>
<polygon points="273.90,142.02 282.50,142.02 278.20,149.62" fill="#000" stroke="#000" stroke-width="1" stroke-linejoin="round"/>
<polygon points="349.04,124.36 357.64,124.36 353.34,131.96" fill="#000" stroke="#000" stroke-width="1" stroke-linejoin="round"/>
<polygon points="418.40,88.83 427.00,88.83 422.70,96.43" fill="#000" stroke="#000" stroke-width="1" stroke-linejoin="round"/>
<circle cx="278.20" cy="151.05" r="3.80" fill="#fff" stroke="#000" stroke-width="1.7"/>
<circle cx="353.34" cy="84.78" r="3.80" fill="#fff" stroke="#000" stroke-width="1.7"/>
<circle cx="422.70" cy="108.76" r="3.80" fill="#fff" stroke="#000" stroke-width="1.7"/>
<text x="331.87" y="88.59" font-size="11.33" textLength="11.38" lengthAdjust="spacingAndGlyphs">$$</text>
<text x="332.07" y="121.07" font-size="12.80" textLength="10.83" lengthAdjust="spacingAndGlyphs">**</text>
<text x="332.30" y="142.23" font-size="13.45" textLength="13.08" lengthAdjust="spacingAndGlyphs">##</text>
<text x="415.30" y="82.33" font-size="11.69" textLength="12.98" lengthAdjust="spacingAndGlyphs">##</text>
<text x="417.36" y="134.07" font-size="10.23" textLength="11.58" lengthAdjust="spacingAndGlyphs">$$</text>
<text x="266.12" y="169.80" font-size="9.53" textLength="42.41" lengthAdjust="spacingAndGlyphs">Injection</text>
<line x1="312.00" y1="153.00" x2="312.00" y2="166.20" stroke="#000" stroke-width="1.2"/>
<polygon points="312.00,151.00 310.00,159.00 312.00,157.80 314.00,159.00" fill="#000"/>
<line x1="349.20" y1="154.00" x2="349.20" y2="168.00" stroke="#000" stroke-width="1.2"/>
<polygon points="349.20,152.00 347.20,160.00 349.20,158.80 351.20,160.00" fill="#000"/>
<text x="363.13" y="166.00" font-size="9.39" textLength="61.77" lengthAdjust="spacingAndGlyphs">HFS (100 Hz)</text>
<text x="481.54" y="23.40" font-size="28.78" textLength="18.66" lengthAdjust="spacingAndGlyphs">C</text>
<line x1="491.00" y1="51.20" x2="491.00" y2="183.80" stroke="#000" stroke-width="2.0"/>
<line x1="490.00" y1="182.80" x2="674.00" y2="182.80" stroke="#000" stroke-width="2.0"/>
<line x1="487.80" y1="182.80" x2="491.00" y2="182.80" stroke="#000" stroke-width="1.3"/>
<text x="475.09" y="185.83" font-size="8.80" class="m">28</text>
<line x1="487.80" y1="166.45" x2="491.00" y2="166.45" stroke="#000" stroke-width="1.3"/>
<text x="475.13" y="169.48" font-size="8.80" class="m">29</text>
<line x1="487.80" y1="150.10" x2="491.00" y2="150.10" stroke="#000" stroke-width="1.3"/>
<text x="475.05" y="153.13" font-size="8.80" class="m">30</text>
<line x1="487.80" y1="133.75" x2="491.00" y2="133.75" stroke="#000" stroke-width="1.3"/>
<text x="475.14" y="136.78" font-size="8.80" class="m">31</text>
<line x1="487.80" y1="117.40" x2="491.00" y2="117.40" stroke="#000" stroke-width="1.3"/>
<text x="475.15" y="120.43" font-size="8.80" class="m">32</text>
<line x1="487.80" y1="101.05" x2="491.00" y2="101.05" stroke="#000" stroke-width="1.3"/>
<text x="475.09" y="104.08" font-size="8.80" class="m">33</text>
<line x1="487.80" y1="84.70" x2="491.00" y2="84.70" stroke="#000" stroke-width="1.3"/>
<text x="474.97" y="87.73" font-size="8.80" class="m">34</text>
<line x1="487.80" y1="68.35" x2="491.00" y2="68.35" stroke="#000" stroke-width="1.3"/>
<text x="475.08" y="71.38" font-size="8.80" class="m">35</text>
<line x1="487.80" y1="52.00" x2="491.00" y2="52.00" stroke="#000" stroke-width="1.3"/>
<text x="475.09" y="55.03" font-size="8.80" class="m">36</text>
<line x1="511.80" y1="182.80" x2="511.80" y2="185.50" stroke="#000" stroke-width="1.3"/>
<text x="509.35" y="198.53" font-size="8.80" class="m">0</text>
<line x1="534.83" y1="182.80" x2="534.83" y2="185.50" stroke="#000" stroke-width="1.3"/>
<text x="529.89" y="198.53" font-size="8.80" class="m">20</text>
<line x1="557.87" y1="182.80" x2="557.87" y2="185.50" stroke="#000" stroke-width="1.3"/>
<text x="553.05" y="198.53" font-size="8.80" class="m">40</text>
<line x1="580.90" y1="182.80" x2="580.90" y2="185.50" stroke="#000" stroke-width="1.3"/>
<text x="575.96" y="198.53" font-size="8.80" class="m">60</text>
<line x1="603.94" y1="182.80" x2="603.94" y2="185.50" stroke="#000" stroke-width="1.3"/>
<text x="599.02" y="198.53" font-size="8.80" class="m">80</text>
<line x1="626.97" y1="182.80" x2="626.97" y2="185.50" stroke="#000" stroke-width="1.3"/>
<text x="619.46" y="198.53" font-size="8.80" class="m">100</text>
<line x1="650.00" y1="182.80" x2="650.00" y2="185.50" stroke="#000" stroke-width="1.3"/>
<text x="642.50" y="198.53" font-size="8.80" class="m">120</text>
<line x1="673.04" y1="182.80" x2="673.04" y2="185.50" stroke="#000" stroke-width="1.3"/>
<text x="665.53" y="198.53" font-size="8.80" class="m">140</text>
<text x="552.26" y="214.80" font-size="11.72" textLength="63.05" lengthAdjust="spacingAndGlyphs">Time (min)</text>
<g transform="translate(463.73,196.81) rotate(-90)"><text x="-0.51" y="0" font-size="12.88" textLength="156.64" lengthAdjust="spacingAndGlyphs">Global DNA methylation %</text></g>
<line x1="518.50" y1="38.70" x2="541.00" y2="38.70" stroke="#000" stroke-width="1.7"/>
<circle cx="529.70" cy="38.70" r="4.10" fill="#000" stroke="#000" stroke-width="1.3"/>
<line x1="518.50" y1="52.40" x2="541.00" y2="52.40" stroke="#000" stroke-width="1.7"/>
<circle cx="529.70" cy="52.40" r="3.70" fill="#fff" stroke="#000" stroke-width="1.7"/>
<line x1="518.50" y1="65.30" x2="541.00" y2="65.30" stroke="#000" stroke-width="1.7"/>
<polygon points="525.40,61.80 534.00,61.80 529.70,69.40" fill="#000" stroke="#000" stroke-width="1" stroke-linejoin="round"/>
<text x="545.49" y="41.90" font-size="8.95" textLength="52.82" lengthAdjust="spacingAndGlyphs" class="b0">HFS-vehicle</text>
<text x="545.50" y="55.20" font-size="8.95" textLength="49.65" lengthAdjust="spacingAndGlyphs" class="b0">HFS+5-AzA</text>
<text x="545.83" y="68.90" font-size="8.95" textLength="25.71" lengthAdjust="spacingAndGlyphs" class="b0">5-AzA</text>
<text x="586.68" y="72.40" font-size="9.10" textLength="81.81" lengthAdjust="spacingAndGlyphs">Hippocampus n=8</text>
<polyline points="511.80,83.06 586.66,121.00 655.76,97.78" fill="none" stroke="#000" stroke-width="1.8" stroke-linejoin="round"/>
<polyline points="511.80,79.80 586.66,134.24 655.76,153.37" fill="none" stroke="#000" stroke-width="1.8" stroke-linejoin="round"/>
<polyline points="511.80,81.43 586.66,105.63 655.76,131.30" fill="none" stroke="#000" stroke-width="1.8" stroke-linejoin="round"/>
<line x1="511.80" y1="68.35" x2="511.80" y2="89.60" stroke="#000" stroke-width="1.4"/>
<line x1="509.30" y1="68.35" x2="514.30" y2="68.35" stroke="#000" stroke-width="1.4"/>
<line x1="509.30" y1="89.60" x2="514.30" y2="89.60" stroke="#000" stroke-width="1.4"/>
<line x1="586.66" y1="101.54" x2="586.66" y2="109.72" stroke="#000" stroke-width="1.4"/>
<line x1="584.16" y1="101.54" x2="589.16" y2="101.54" stroke="#000" stroke-width="1.4"/>
<line x1="584.16" y1="109.72" x2="589.16" y2="109.72" stroke="#000" stroke-width="1.4"/>
<line x1="586.66" y1="114.13" x2="586.66" y2="128.84" stroke="#000" stroke-width="1.4"/>
<line x1="584.16" y1="114.13" x2="589.16" y2="114.13" stroke="#000" stroke-width="1.4"/>
<line x1="584.16" y1="128.84" x2="589.16" y2="128.84" stroke="#000" stroke-width="1.4"/>
<line x1="586.66" y1="125.58" x2="586.66" y2="142.74" stroke="#000" stroke-width="1.4"/>
<line x1="584.16" y1="125.58" x2="589.16" y2="125.58" stroke="#000" stroke-width="1.4"/>
<line x1="584.16" y1="142.74" x2="589.16" y2="142.74" stroke="#000" stroke-width="1.4"/>
<line x1="655.76" y1="87.97" x2="655.76" y2="107.59" stroke="#000" stroke-width="1.4"/>
<line x1="653.26" y1="87.97" x2="658.26" y2="87.97" stroke="#000" stroke-width="1.4"/>
<line x1="653.26" y1="107.59" x2="658.26" y2="107.59" stroke="#000" stroke-width="1.4"/>
<line x1="655.76" y1="122.31" x2="655.76" y2="138.66" stroke="#000" stroke-width="1.4"/>
<line x1="653.26" y1="122.31" x2="658.26" y2="122.31" stroke="#000" stroke-width="1.4"/>
<line x1="653.26" y1="138.66" x2="658.26" y2="138.66" stroke="#000" stroke-width="1.4"/>
<line x1="655.76" y1="143.56" x2="655.76" y2="162.36" stroke="#000" stroke-width="1.4"/>
<line x1="653.26" y1="143.56" x2="658.26" y2="143.56" stroke="#000" stroke-width="1.4"/>
<line x1="653.26" y1="162.36" x2="658.26" y2="162.36" stroke="#000" stroke-width="1.4"/>
<circle cx="511.80" cy="83.06" r="4.20" fill="#000" stroke="#000" stroke-width="1.3"/>
<circle cx="586.66" cy="121.00" r="4.20" fill="#000" stroke="#000" stroke-width="1.3"/>
<circle cx="655.76" cy="97.78" r="4.20" fill="#000" stroke="#000" stroke-width="1.3"/>
<polygon points="507.50,77.63 516.10,77.63 511.80,85.23" fill="#000" stroke="#000" stroke-width="1" stroke-linejoin="round"/>
<polygon points="582.36,101.83 590.96,101.83 586.66,109.43" fill="#000" stroke="#000" stroke-width="1" stroke-linejoin="round"/>
<polygon points="651.46,127.50 660.06,127.50 655.76,135.10" fill="#000" stroke="#000" stroke-width="1" stroke-linejoin="round"/>
<circle cx="511.80" cy="79.80" r="3.80" fill="#fff" stroke="#000" stroke-width="1.7"/>
<circle cx="586.66" cy="134.24" r="3.80" fill="#fff" stroke="#000" stroke-width="1.7"/>
<circle cx="655.76" cy="153.37" r="3.80" fill="#fff" stroke="#000" stroke-width="1.7"/>
<text x="593.70" y="103.53" font-size="11.69" textLength="13.08" lengthAdjust="spacingAndGlyphs">##</text>
<text x="596.47" y="127.98" font-size="10.91" textLength="11.03" lengthAdjust="spacingAndGlyphs">**</text>
<text x="563.87" y="141.19" font-size="9.99" textLength="11.38" lengthAdjust="spacingAndGlyphs">$$</text>
<text x="661.98" y="134.73" font-size="12.72" textLength="14.32" lengthAdjust="spacingAndGlyphs">##</text>
<text x="662.97" y="155.73" font-size="9.50" textLength="10.97" lengthAdjust="spacingAndGlyphs">$$</text>
<text x="496.02" y="176.70" font-size="9.53" textLength="42.52" lengthAdjust="spacingAndGlyphs">Injection</text>
<line x1="541.80" y1="160.60" x2="541.80" y2="173.60" stroke="#000" stroke-width="1.2"/>
<polygon points="541.80,158.60 539.80,166.60 541.80,165.40 543.80,166.60" fill="#000"/>
<line x1="579.30" y1="162.70" x2="579.30" y2="175.90" stroke="#000" stroke-width="1.2"/>
<polygon points="579.30,160.70 577.30,168.70 579.30,167.50 581.30,168.70" fill="#000"/>
<text x="593.13" y="172.80" font-size="9.39" textLength="62.17" lengthAdjust="spacingAndGlyphs">HFS (100 Hz)</text>
<text x="29.14" y="258.50" font-size="28.78" textLength="19.26" lengthAdjust="spacingAndGlyphs">D</text>
<line x1="41.20" y1="280.50" x2="41.20" y2="405.80" stroke="#000" stroke-width="2.0"/>
<line x1="40.20" y1="404.80" x2="215.30" y2="404.80" stroke="#000" stroke-width="2.0"/>
<line x1="38.20" y1="404.80" x2="41.20" y2="404.80" stroke="#000" stroke-width="1.3"/>
<text x="30.24" y="407.83" font-size="8.80" class="m">0</text>
<line x1="38.20" y1="384.20" x2="41.20" y2="384.20" stroke="#000" stroke-width="1.3"/>
<text x="25.35" y="387.23" font-size="8.80" class="m">20</text>
<line x1="38.20" y1="363.60" x2="41.20" y2="363.60" stroke="#000" stroke-width="1.3"/>
<text x="25.35" y="366.63" font-size="8.80" class="m">40</text>
<line x1="38.20" y1="343.00" x2="41.20" y2="343.00" stroke="#000" stroke-width="1.3"/>
<text x="25.35" y="346.03" font-size="8.80" class="m">60</text>
<line x1="38.20" y1="322.40" x2="41.20" y2="322.40" stroke="#000" stroke-width="1.3"/>
<text x="25.35" y="325.43" font-size="8.80" class="m">80</text>
<line x1="38.20" y1="301.80" x2="41.20" y2="301.80" stroke="#000" stroke-width="1.3"/>
<text x="20.46" y="304.83" font-size="8.80" class="m">100</text>
<line x1="38.20" y1="281.20" x2="41.20" y2="281.20" stroke="#000" stroke-width="1.3"/>
<text x="20.46" y="284.23" font-size="8.80" class="m">120</text>
<line x1="41.20" y1="404.80" x2="41.20" y2="407.50" stroke="#000" stroke-width="1.3"/>
<text x="38.42" y="420.64" font-size="10.00" class="b0">0</text>
<line x1="66.00" y1="404.80" x2="66.00" y2="407.50" stroke="#000" stroke-width="1.3"/>
<text x="63.08" y="420.64" font-size="10.00" class="b0">1</text>
<line x1="90.80" y1="404.80" x2="90.80" y2="407.50" stroke="#000" stroke-width="1.3"/>
<text x="88.02" y="420.69" font-size="10.00" class="b0">2</text>
<line x1="115.60" y1="404.80" x2="115.60" y2="407.50" stroke="#000" stroke-width="1.3"/>
<text x="112.85" y="420.64" font-size="10.00" class="b0">3</text>
<line x1="140.40" y1="404.80" x2="140.40" y2="407.50" stroke="#000" stroke-width="1.3"/>
<text x="137.66" y="420.64" font-size="10.00" class="b0">4</text>
<line x1="165.20" y1="404.80" x2="165.20" y2="407.50" stroke="#000" stroke-width="1.3"/>
<text x="162.42" y="420.59" font-size="10.00" class="b0">5</text>
<line x1="190.00" y1="404.80" x2="190.00" y2="407.50" stroke="#000" stroke-width="1.3"/>
<text x="187.19" y="420.64" font-size="10.00" class="b0">6</text>
<line x1="214.80" y1="404.80" x2="214.80" y2="407.50" stroke="#000" stroke-width="1.3"/>
<text x="212.02" y="420.64" font-size="10.00" class="b0">7</text>
<text x="80.56" y="438.90" font-size="12.73" textLength="80.74" lengthAdjust="spacingAndGlyphs">Training days</text>
<g transform="translate(14.83,401.53) rotate(-90)"><text x="-0.83" y="0" font-size="12.59" textLength="123.24" lengthAdjust="spacingAndGlyphs">Escape latency (sec)</text></g>
<line x1="107.70" y1="277.90" x2="131.80" y2="277.90" stroke="#000" stroke-width="1.8"/>
<circle cx="119.50" cy="277.90" r="2.90" fill="#000" stroke="#000" stroke-width="1.3"/>
<line x1="107.70" y1="292.10" x2="131.80" y2="292.10" stroke="#000" stroke-width="1.8"/>
<circle cx="119.50" cy="292.10" r="2.30" fill="#fff" stroke="#000" stroke-width="1.5"/>
<text x="137.19" y="281.50" font-size="10.41" textLength="71.47" lengthAdjust="spacingAndGlyphs">Training-5-AzA</text>
<text x="137.19" y="295.80" font-size="10.41" textLength="77.06" lengthAdjust="spacingAndGlyphs">Training-vehicle</text>
<polyline points="66.00,311.60 90.80,332.10 115.70,343.20 140.60,348.80 165.20,357.10 189.80,356.20" fill="none" stroke="#000" stroke-width="1.8" stroke-linejoin="round"/>
<polyline points="66.00,314.20 90.80,339.10 115.70,364.80 140.60,368.10 165.20,375.00 189.80,378.10" fill="none" stroke="#000" stroke-width="1.8" stroke-linejoin="round"/>
<line x1="66.00" y1="300.60" x2="66.00" y2="322.60" stroke="#000" stroke-width="1.5"/>
<line x1="63.80" y1="300.60" x2="68.20" y2="300.60" stroke="#000" stroke-width="1.5"/>
<line x1="63.80" y1="322.60" x2="68.20" y2="322.60" stroke="#000" stroke-width="1.5"/>
<line x1="90.80" y1="318.20" x2="90.80" y2="346.00" stroke="#000" stroke-width="1.5"/>
<line x1="88.60" y1="318.20" x2="93.00" y2="318.20" stroke="#000" stroke-width="1.5"/>
<line x1="88.60" y1="346.00" x2="93.00" y2="346.00" stroke="#000" stroke-width="1.5"/>
<line x1="115.70" y1="337.00" x2="115.70" y2="349.40" stroke="#000" stroke-width="1.5"/>
<line x1="113.50" y1="337.00" x2="117.90" y2="337.00" stroke="#000" stroke-width="1.5"/>
<line x1="113.50" y1="349.40" x2="117.90" y2="349.40" stroke="#000" stroke-width="1.5"/>
<line x1="140.60" y1="339.80" x2="140.60" y2="357.80" stroke="#000" stroke-width="1.5"/>
<line x1="138.40" y1="339.80" x2="142.80" y2="339.80" stroke="#000" stroke-width="1.5"/>
<line x1="138.40" y1="357.80" x2="142.80" y2="357.80" stroke="#000" stroke-width="1.5"/>
<line x1="165.20" y1="346.20" x2="165.20" y2="368.00" stroke="#000" stroke-width="1.5"/>
<line x1="163.00" y1="346.20" x2="167.40" y2="346.20" stroke="#000" stroke-width="1.5"/>
<line x1="163.00" y1="368.00" x2="167.40" y2="368.00" stroke="#000" stroke-width="1.5"/>
<line x1="189.80" y1="346.50" x2="189.80" y2="365.90" stroke="#000" stroke-width="1.5"/>
<line x1="187.60" y1="346.50" x2="192.00" y2="346.50" stroke="#000" stroke-width="1.5"/>
<line x1="187.60" y1="365.90" x2="192.00" y2="365.90" stroke="#000" stroke-width="1.5"/>
<line x1="66.00" y1="305.50" x2="66.00" y2="322.90" stroke="#000" stroke-width="1.5"/>
<line x1="63.80" y1="305.50" x2="68.20" y2="305.50" stroke="#000" stroke-width="1.5"/>
<line x1="63.80" y1="322.90" x2="68.20" y2="322.90" stroke="#000" stroke-width="1.5"/>
<line x1="90.80" y1="331.30" x2="90.80" y2="346.90" stroke="#000" stroke-width="1.5"/>
<line x1="88.60" y1="331.30" x2="93.00" y2="331.30" stroke="#000" stroke-width="1.5"/>
<line x1="88.60" y1="346.90" x2="93.00" y2="346.90" stroke="#000" stroke-width="1.5"/>
<line x1="115.70" y1="357.80" x2="115.70" y2="371.80" stroke="#000" stroke-width="1.5"/>
<line x1="113.50" y1="357.80" x2="117.90" y2="357.80" stroke="#000" stroke-width="1.5"/>
<line x1="113.50" y1="371.80" x2="117.90" y2="371.80" stroke="#000" stroke-width="1.5"/>
<line x1="140.60" y1="362.00" x2="140.60" y2="374.20" stroke="#000" stroke-width="1.5"/>
<line x1="138.40" y1="362.00" x2="142.80" y2="362.00" stroke="#000" stroke-width="1.5"/>
<line x1="138.40" y1="374.20" x2="142.80" y2="374.20" stroke="#000" stroke-width="1.5"/>
<line x1="165.20" y1="366.20" x2="165.20" y2="383.80" stroke="#000" stroke-width="1.5"/>
<line x1="163.00" y1="366.20" x2="167.40" y2="366.20" stroke="#000" stroke-width="1.5"/>
<line x1="163.00" y1="383.80" x2="167.40" y2="383.80" stroke="#000" stroke-width="1.5"/>
<line x1="189.80" y1="372.70" x2="189.80" y2="383.50" stroke="#000" stroke-width="1.5"/>
<line x1="187.60" y1="372.70" x2="192.00" y2="372.70" stroke="#000" stroke-width="1.5"/>
<line x1="187.60" y1="383.50" x2="192.00" y2="383.50" stroke="#000" stroke-width="1.5"/>
<circle cx="66.00" cy="311.60" r="2.90" fill="#000" stroke="#000" stroke-width="1.3"/>
<circle cx="90.80" cy="332.10" r="2.90" fill="#000" stroke="#000" stroke-width="1.3"/>
<circle cx="115.70" cy="343.20" r="2.90" fill="#000" stroke="#000" stroke-width="1.3"/>
<circle cx="140.60" cy="348.80" r="2.90" fill="#000" stroke="#000" stroke-width="1.3"/>
<circle cx="165.20" cy="357.10" r="2.90" fill="#000" stroke="#000" stroke-width="1.3"/>
<circle cx="189.80" cy="356.20" r="2.90" fill="#000" stroke="#000" stroke-width="1.3"/>
<circle cx="66.00" cy="314.20" r="2.40" fill="#fff" stroke="#000" stroke-width="1.5"/>
<circle cx="90.80" cy="339.10" r="2.40" fill="#fff" stroke="#000" stroke-width="1.5"/>
<circle cx="115.70" cy="364.80" r="2.40" fill="#fff" stroke="#000" stroke-width="1.5"/>
<circle cx="140.60" cy="368.10" r="2.40" fill="#fff" stroke="#000" stroke-width="1.5"/>
<circle cx="165.20" cy="375.00" r="2.40" fill="#fff" stroke="#000" stroke-width="1.5"/>
<circle cx="189.80" cy="378.10" r="2.40" fill="#fff" stroke="#000" stroke-width="1.5"/>
<text x="58.44" y="388.70" font-size="9.24" textLength="17.76" lengthAdjust="spacingAndGlyphs">n=8</text>
<text x="250.11" y="254.00" font-size="28.34" textLength="17.09" lengthAdjust="spacingAndGlyphs">E</text>
<line x1="262.40" y1="285.00" x2="262.40" y2="408.10" stroke="#000" stroke-width="2.0"/>
<line x1="261.40" y1="407.10" x2="443.00" y2="407.10" stroke="#000" stroke-width="2.0"/>
<line x1="259.40" y1="407.10" x2="262.40" y2="407.10" stroke="#000" stroke-width="1.3"/>
<text x="245.58" y="410.08" font-size="8.80" class="m">15</text>
<line x1="259.40" y1="382.60" x2="262.40" y2="382.60" stroke="#000" stroke-width="1.3"/>
<text x="245.55" y="385.63" font-size="8.80" class="m">20</text>
<line x1="259.40" y1="358.10" x2="262.40" y2="358.10" stroke="#000" stroke-width="1.3"/>
<text x="245.58" y="361.13" font-size="8.80" class="m">25</text>
<line x1="259.40" y1="333.60" x2="262.40" y2="333.60" stroke="#000" stroke-width="1.3"/>
<text x="245.55" y="336.63" font-size="8.80" class="m">30</text>
<line x1="259.40" y1="309.10" x2="262.40" y2="309.10" stroke="#000" stroke-width="1.3"/>
<text x="245.58" y="312.13" font-size="8.80" class="m">35</text>
<line x1="259.40" y1="284.60" x2="262.40" y2="284.60" stroke="#000" stroke-width="1.3"/>
<text x="245.55" y="287.63" font-size="8.80" class="m">40</text>
<line x1="322.90" y1="407.10" x2="322.90" y2="409.80" stroke="#000" stroke-width="1.3"/>
<line x1="382.90" y1="407.10" x2="382.90" y2="409.80" stroke="#000" stroke-width="1.3"/>
<line x1="442.20" y1="407.10" x2="442.20" y2="409.80" stroke="#000" stroke-width="1.3"/>
<g transform="translate(238.73,437.34) rotate(-90)"><text x="-0.14" y="0" font-size="12.73" textLength="184.57" lengthAdjust="spacingAndGlyphs">Time in target quadrants (sec)</text></g>
<line x1="264.90" y1="338.50" x2="436.50" y2="338.50" stroke="#333" stroke-width="1.1" stroke-dasharray="21.3 6.9"/>
<line x1="322.80" y1="339.20" x2="322.80" y2="347.80" stroke="#000" stroke-width="1.6"/>
<line x1="321.05" y1="339.20" x2="324.55" y2="339.20" stroke="#000" stroke-width="1.6"/>
<rect x="305.00" y="347.80" width="36.00" height="59.30" fill="#fff" stroke="#000" stroke-width="1.7"/>
<line x1="382.70" y1="382.00" x2="382.70" y2="384.90" stroke="#000" stroke-width="1.6"/>
<line x1="380.40" y1="382.00" x2="385.00" y2="382.00" stroke="#000" stroke-width="1.6"/>
<rect x="364.60" y="384.90" width="36.40" height="22.20" fill="url(#dots)" stroke="#000" stroke-width="1.6"/>
<text x="376.06" y="368.08" font-size="16.29" textLength="13.94" lengthAdjust="spacingAndGlyphs">**</text>
<text x="268.24" y="387.90" font-size="9.39" textLength="17.76" lengthAdjust="spacingAndGlyphs">n=8</text>
<text x="301.98" y="424.00" font-size="9.97" textLength="41.64" lengthAdjust="spacingAndGlyphs">Training</text>
<text x="368.19" y="425.90" font-size="10.26" textLength="29.28" lengthAdjust="spacingAndGlyphs">5-AzA</text>
<text x="329.68" y="444.30" font-size="12.59" textLength="45.02" lengthAdjust="spacingAndGlyphs">Groups</text>
<text x="300.53" y="266.50" font-size="10.26" textLength="94.72" lengthAdjust="spacingAndGlyphs">Probe trial on day 7</text>
<text x="278.36" y="278.83" font-size="9.97" textLength="6.30" lengthAdjust="spacingAndGlyphs">0</text>
<text x="325.72" y="279.50" font-size="6.92" textLength="27.55" lengthAdjust="spacingAndGlyphs">Training</text>
<text x="408.49" y="279.70" font-size="9.39" textLength="26.01" lengthAdjust="spacingAndGlyphs">(Day)</text>
<line x1="280.60" y1="283.40" x2="404.30" y2="283.40" stroke="#333" stroke-width="1.1"/>
<line x1="280.60" y1="287.40" x2="418.50" y2="287.40" stroke="#000" stroke-width="1.1"/>
<line x1="281.00" y1="282.20" x2="281.00" y2="290.20" stroke="#777" stroke-width="1.2"/>
<line x1="404.30" y1="283.40" x2="404.30" y2="293.50" stroke="#000" stroke-width="1.1"/>
<line x1="418.50" y1="282.40" x2="418.50" y2="292.20" stroke="#000" stroke-width="1.1"/>
<line x1="299.50" y1="287.40" x2="299.50" y2="291.00" stroke="#000" stroke-width="1.1"/>
<line x1="317.40" y1="287.40" x2="317.40" y2="291.00" stroke="#000" stroke-width="1.1"/>
<line x1="336.30" y1="287.40" x2="336.30" y2="291.00" stroke="#000" stroke-width="1.1"/>
<line x1="357.50" y1="287.40" x2="357.50" y2="291.00" stroke="#000" stroke-width="1.1"/>
<line x1="379.40" y1="287.40" x2="379.40" y2="291.00" stroke="#000" stroke-width="1.1"/>
<line x1="290.20" y1="290.80" x2="290.20" y2="302.40" stroke="#000" stroke-width="1.0"/>
<polygon points="290.20,288.80 288.70,296.30 290.20,295.10 291.70,296.30" fill="#000"/>
<line x1="309.40" y1="290.80" x2="309.40" y2="302.40" stroke="#000" stroke-width="1.0"/>
<polygon points="309.40,288.80 307.90,296.30 309.40,295.10 310.90,296.30" fill="#000"/>
<line x1="329.10" y1="290.80" x2="329.10" y2="302.40" stroke="#000" stroke-width="1.0"/>
<polygon points="329.10,288.80 327.60,296.30 329.10,295.10 330.60,296.30" fill="#000"/>
<line x1="344.40" y1="290.80" x2="344.40" y2="302.40" stroke="#000" stroke-width="1.0"/>
<polygon points="344.40,288.80 342.90,296.30 344.40,295.10 345.90,296.30" fill="#000"/>
<line x1="367.40" y1="290.80" x2="367.40" y2="302.40" stroke="#000" stroke-width="1.0"/>
<polygon points="367.40,288.80 365.90,296.30 367.40,295.10 368.90,296.30" fill="#000"/>
<line x1="387.80" y1="290.80" x2="387.80" y2="302.40" stroke="#000" stroke-width="1.0"/>
<polygon points="387.80,288.80 386.30,296.30 387.80,295.10 389.30,296.30" fill="#000"/>
<line x1="411.30" y1="290.80" x2="411.30" y2="302.40" stroke="#000" stroke-width="1.0"/>
<polygon points="411.30,288.80 409.80,296.30 411.30,295.10 412.80,296.30" fill="#000"/>
<text x="282.52" y="315.40" font-size="9.83" textLength="117.14" lengthAdjust="spacingAndGlyphs" class="b0">5-AzA (intrahippocampus)</text>
<text x="403.96" y="312.80" font-size="9.53" textLength="20.02" lengthAdjust="spacingAndGlyphs" class="m">Test</text>
<text x="493.85" y="251.00" font-size="28.63" textLength="15.24" lengthAdjust="spacingAndGlyphs">F</text>
<line x1="500.10" y1="277.50" x2="500.10" y2="407.70" stroke="#000" stroke-width="2.0"/>
<line x1="499.10" y1="406.70" x2="684.00" y2="406.70" stroke="#000" stroke-width="2.0"/>
<line x1="497.10" y1="406.70" x2="500.10" y2="406.70" stroke="#000" stroke-width="1.3"/>
<text x="483.18" y="409.73" font-size="8.80" class="m">25</text>
<line x1="497.10" y1="363.90" x2="500.10" y2="363.90" stroke="#000" stroke-width="1.3"/>
<text x="483.15" y="366.93" font-size="8.80" class="m">30</text>
<line x1="497.10" y1="321.10" x2="500.10" y2="321.10" stroke="#000" stroke-width="1.3"/>
<text x="483.18" y="324.13" font-size="8.80" class="m">35</text>
<line x1="497.10" y1="278.30" x2="500.10" y2="278.30" stroke="#000" stroke-width="1.3"/>
<text x="483.15" y="281.33" font-size="8.80" class="m">40</text>
<line x1="525.60" y1="406.70" x2="525.60" y2="409.30" stroke="#000" stroke-width="1.3"/>
<line x1="552.00" y1="406.70" x2="552.00" y2="409.30" stroke="#000" stroke-width="1.3"/>
<line x1="577.70" y1="406.70" x2="577.70" y2="409.30" stroke="#000" stroke-width="1.3"/>
<line x1="603.90" y1="406.70" x2="603.90" y2="409.30" stroke="#000" stroke-width="1.3"/>
<line x1="629.50" y1="406.70" x2="629.50" y2="409.30" stroke="#000" stroke-width="1.3"/>
<line x1="655.10" y1="406.70" x2="655.10" y2="409.30" stroke="#000" stroke-width="1.3"/>
<g transform="translate(474.13,433.45) rotate(-90)"><text x="-0.55" y="0" font-size="13.75" textLength="176.30" lengthAdjust="spacingAndGlyphs">Global DNA methylation (%)</text></g>
<line x1="525.70" y1="316.70" x2="525.70" y2="327.50" stroke="#000" stroke-width="1.5"/>
<line x1="523.20" y1="316.70" x2="528.20" y2="316.70" stroke="#000" stroke-width="1.5"/>
<rect x="518.00" y="327.50" width="15.40" height="79.20" fill="#fff" stroke="#000" stroke-width="1.7"/>
<line x1="551.55" y1="339.70" x2="551.55" y2="346.40" stroke="#000" stroke-width="1.5"/>
<line x1="549.05" y1="339.70" x2="554.05" y2="339.70" stroke="#000" stroke-width="1.5"/>
<rect x="543.70" y="346.40" width="15.70" height="60.30" fill="#fff" stroke="#000" stroke-width="1.7"/>
<line x1="577.65" y1="359.10" x2="577.65" y2="363.20" stroke="#000" stroke-width="1.5"/>
<line x1="575.15" y1="359.10" x2="580.15" y2="359.10" stroke="#000" stroke-width="1.5"/>
<rect x="569.70" y="363.20" width="15.90" height="43.50" fill="url(#dots)" stroke="#000" stroke-width="1.7"/>
<line x1="603.20" y1="325.60" x2="603.20" y2="336.40" stroke="#000" stroke-width="1.5"/>
<line x1="600.70" y1="325.60" x2="605.70" y2="325.60" stroke="#000" stroke-width="1.5"/>
<rect x="595.10" y="336.40" width="16.20" height="70.30" fill="#fff" stroke="#000" stroke-width="1.7"/>
<line x1="629.70" y1="308.10" x2="629.70" y2="317.30" stroke="#000" stroke-width="1.5"/>
<line x1="627.20" y1="308.10" x2="632.20" y2="308.10" stroke="#000" stroke-width="1.5"/>
<rect x="621.60" y="317.30" width="16.20" height="89.40" fill="#fff" stroke="#000" stroke-width="1.7"/>
<line x1="655.40" y1="365.40" x2="655.40" y2="371.30" stroke="#000" stroke-width="1.5"/>
<line x1="652.90" y1="365.40" x2="657.90" y2="365.40" stroke="#000" stroke-width="1.5"/>
<rect x="647.30" y="371.30" width="16.20" height="35.40" fill="url(#dots)" stroke="#000" stroke-width="1.7"/>
<line x1="525.10" y1="288.90" x2="570.80" y2="288.90" stroke="#555" stroke-width="1.2"/>
<line x1="525.10" y1="288.90" x2="525.10" y2="295.90" stroke="#555" stroke-width="1.2"/>
<line x1="548.10" y1="288.90" x2="548.10" y2="295.90" stroke="#555" stroke-width="1.2"/>
<line x1="570.80" y1="288.90" x2="570.80" y2="295.90" stroke="#555" stroke-width="1.2"/>
<line x1="628.40" y1="284.30" x2="653.50" y2="284.30" stroke="#555" stroke-width="1.2"/>
<line x1="628.40" y1="284.30" x2="628.40" y2="291.00" stroke="#555" stroke-width="1.2"/>
<line x1="653.50" y1="284.30" x2="653.50" y2="291.00" stroke="#555" stroke-width="1.2"/>
<text x="512.30" y="275.90" font-size="9.24" textLength="18.82" lengthAdjust="spacingAndGlyphs">n=8</text>
<text x="552.99" y="275.90" font-size="9.24" textLength="63.25" lengthAdjust="spacingAndGlyphs">Test on day 7</text>
<text x="544.26" y="333.18" font-size="16.29" textLength="13.74" lengthAdjust="spacingAndGlyphs">**</text>
<text x="568.86" y="339.78" font-size="16.29" textLength="14.14" lengthAdjust="spacingAndGlyphs">**</text>
<text x="648.49" y="339.83" font-size="13.89" textLength="13.80" lengthAdjust="spacingAndGlyphs">##</text>
<text x="507.35" y="424.80" font-size="7.94" textLength="20.05" lengthAdjust="spacingAndGlyphs" class="r">Sham</text>
<text x="530.93" y="424.80" font-size="7.94" textLength="27.46" lengthAdjust="spacingAndGlyphs" class="r">Training</text>
<text x="568.69" y="424.80" font-size="7.94" textLength="21.13" lengthAdjust="spacingAndGlyphs" class="r">5-AzA</text>
<text x="596.45" y="425.60" font-size="7.94" textLength="20.05" lengthAdjust="spacingAndGlyphs" class="r">Sham</text>
<text x="616.93" y="424.80" font-size="7.94" textLength="27.46" lengthAdjust="spacingAndGlyphs" class="r">Training</text>
<text x="657.79" y="424.80" font-size="7.94" textLength="20.92" lengthAdjust="spacingAndGlyphs" class="r">5-AzA</text>
<line x1="510.80" y1="433.50" x2="590.50" y2="433.50" stroke="#333" stroke-width="1.2"/>
<line x1="606.10" y1="432.60" x2="681.70" y2="432.60" stroke="#888" stroke-width="1.2"/>
<text x="532.76" y="447.50" font-size="10.41" textLength="45.73" lengthAdjust="spacingAndGlyphs">On day 6</text>
<text x="617.65" y="447.20" font-size="10.41" textLength="46.12" lengthAdjust="spacingAndGlyphs">On day 7</text>
</svg>
</body></html>
